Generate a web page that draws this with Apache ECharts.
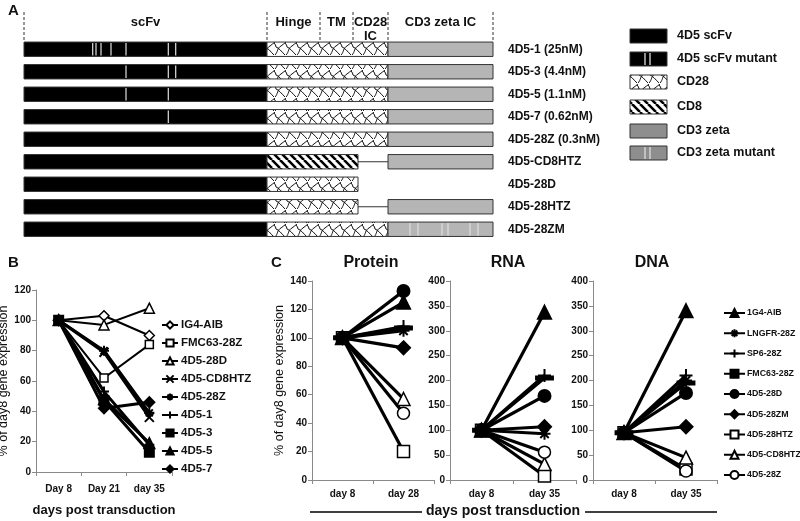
<!DOCTYPE html>
<html><head><meta charset="utf-8">
<script src="https://cdn.jsdelivr.net/npm/echarts@6/dist/echarts.min.js"></script>
<style>html,body{margin:0;padding:0;background:#fff}#c{width:800px;height:521px}</style>
</head><body><div id="c"></div><script>
// ---------- Panel A data ----------
const constructNames = ['4D5-1 (25nM)','4D5-3 (4.4nM)','4D5-5 (1.1nM)','4D5-7 (0.62nM)','4D5-28Z (0.3nM)','4D5-CD8HTZ','4D5-28D','4D5-28HTZ','4D5-28ZM'];
const domainBounds = [0, 243, 296, 329, 364, 469];
const domainNames = ['scFv', 'Hinge', 'TM', 'CD28\nIC', 'CD3 zeta IC'];
const segTypes = ['scfv', 'cd28', 'cd8', 'zeta', 'link'];
const constructSegments = [
  [['scfv',0,243],['cd28',243,364],['zeta',364,469]],
  [['scfv',0,243],['cd28',243,364],['zeta',364,469]],
  [['scfv',0,243],['cd28',243,364],['zeta',364,469]],
  [['scfv',0,243],['cd28',243,364],['zeta',364,469]],
  [['scfv',0,243],['cd28',243,364],['zeta',364,469]],
  [['scfv',0,243],['cd8',243,334],['link',334,364],['zeta',364,469]],
  [['scfv',0,243],['cd28',243,334]],
  [['scfv',0,243],['cd28',243,334],['link',334,364],['zeta',364,469]],
  [['scfv',0,243],['cd28',243,364],['zeta',364,469]]
];
const scfvMutations = [[68.7,72,77,87,102,144.3,151.7],[102,144.3,151.7],[102,144.3],[144.3],[],[],[],[],[]];
const zetaMutations = [[],[],[],[],[],[],[],[],[386,394,418,424,446,454]];
const legendANames = ['4D5 scFv','4D5 scFv mutant','CD28','CD8','CD3 zeta','CD3 zeta mutant'];

// ---------- Panel B data ----------
const bDays = ['Day 8','Day 21','day 35'];
const bNames = ['IG4-AIB','FMC63-28Z','4D5-28D','4D5-CD8HTZ','4D5-28Z','4D5-1','4D5-3','4D5-5','4D5-7'];
const bIG4AIB = [100, 103, 90];
const bFMC63 = [100, 62, 84];
const b28D = [100, 97, 108];
const bCD8HTZ = [100, 79, 36];
const b28Z = [100, 80, 39];
const b4D5_1 = [100, 53, 18];
const b4D5_3 = [100, 47, 13];
const b4D5_5 = [100, 48, 19];
const b4D5_7 = [100, 42, 46];
const bValues = [bIG4AIB, bFMC63, b28D, bCD8HTZ, b28Z, b4D5_1, b4D5_3, b4D5_5, b4D5_7];

// ---------- Panel C data ----------
const proteinDays = ['day 8','day 28'];
const rnaDays = ['day 8','day 35'];
const dnaDays = ['day 8','day 35'];
const cNames = ['1G4-AIB','LNGFR-28Z','SP6-28Z','FMC63-28Z','4D5-28D','4D5-28ZM','4D5-28HTZ','4D5-CD8HTZ','4D5-28Z'];
const proteinDay8 = [100,100,100,100,100,100,100,100,100];
const proteinDay28 = [125,105,108,107,133,93,20,57,47];
const rnaDay8 = [100,100,100,100,100,100,100,100,100];
const rnaDay35 = [337,93,210,205,169,107,8,32,56];
const dnaDay8 = [95,95,95,95,95,95,95,95,95];
const dnaDay35 = [340,200,210,195,175,107,22,45,18];

// ---------- styles ----------
const FONT = 'Liberation Sans, Arial, Helvetica, sans-serif';
const P_PLUS = 'path://M0,5L10,5M5,0L5,10';
const P_X = 'path://M0,0L10,10M10,0L0,10';
const P_AST = 'path://M0,5L10,5M5,0L5,10M1.5,1.5L8.5,8.5M8.5,1.5L1.5,8.5';

function mk(symbol, open, size){ return {symbol, open, size}; }
const bMarkers = [mk('diamond',true,10), mk('rect',true,8), mk('triangle',true,10), mk(P_X,false,9), mk(P_AST,false,10),
                  mk(P_PLUS,false,10), mk('rect',false,9), mk('triangle',false,10), mk('diamond',false,10)];
const cMarkers = [mk('triangle',false,13), mk(P_AST,false,12), mk(P_PLUS,false,13), mk('rect',false,[15,4]), mk('circle',false,12),
                  mk('diamond',false,13), mk('rect',true,12), mk('triangle',true,13), mk('circle',true,12)];

// patterns
function cd28Pattern(){
  const c = document.createElement('canvas'); c.width = 11; c.height = 14;
  const g = c.getContext('2d');
  g.fillStyle = '#fff'; g.fillRect(0,0,11,14);
  g.strokeStyle = '#111'; g.lineWidth = 1;
  g.beginPath(); g.moveTo(0,13); g.bezierCurveTo(3,10,2,6,6,4); g.stroke();
  g.beginPath(); g.moveTo(6,4); g.bezierCurveTo(8,3,9,1,11,0); g.stroke();
  g.beginPath(); g.moveTo(1,5); g.bezierCurveTo(4,6,6,9,10,13); g.stroke();
  g.beginPath(); g.moveTo(-1,1); g.quadraticCurveTo(1,3,1,5); g.stroke();
  g.beginPath(); g.moveTo(10,1); g.quadraticCurveTo(12,3,12,5); g.stroke();
  return c;
}
function cd8Pattern(){
  const c = document.createElement('canvas'); c.width = 8; c.height = 8;
  const g = c.getContext('2d');
  g.fillStyle = '#fff'; g.fillRect(0,0,8,8);
  g.strokeStyle = '#000'; g.lineWidth = 2.6;
  g.beginPath();
  [-8,0,8].forEach(k => { g.moveTo(k,0); g.lineTo(k+8,8); });
  g.stroke();
  return c;
}
const PAT28 = {image: cd28Pattern(), repeat: 'repeat'};
const PAT8 = {image: cd8Pattern(), repeat: 'repeat'};
const ZETA = '#b5b5b5';

// data for custom series
const segData = [];
constructSegments.forEach((segs, r) => segs.forEach(s => segData.push([r, segTypes.indexOf(s[0]), s[1], s[2]])));
const mutData = [];
scfvMutations.forEach((arr, r) => arr.forEach(p => mutData.push([r, p])));
zetaMutations.forEach((arr, r) => arr.forEach(p => mutData.push([r, p])));
const headerTextData = domainNames.map((n, i) => [(domainBounds[i] + domainBounds[i+1]) / 2, 1, n]);

const axisGrey = {color: '#8a8a8a', width: 1};
function valueY(grid, max, interval, name){
  return {gridIndex: grid, type: 'value', min: 0, max, interval,
    name: name || '', nameLocation: 'middle', nameGap: 24,
    nameTextStyle: {fontFamily: FONT, fontSize: 12.5, color: '#111'},
    axisLine: {show: true, lineStyle: axisGrey}, axisTick: {show: true, length: 4, lineStyle: axisGrey},
    axisLabel: {fontFamily: FONT, fontWeight: 'bold', fontSize: 10, color: '#111', margin: 5},
    splitLine: {show: false}};
}
function catX(grid, data, margin){
  return {gridIndex: grid, type: 'category', data, boundaryGap: true,
    axisLine: {show: true, lineStyle: axisGrey}, axisTick: {show: true, length: 4, lineStyle: axisGrey},
    axisLabel: {fontFamily: FONT, fontWeight: 'bold', fontSize: 10, color: '#111', margin: margin, interval: 0},
    splitLine: {show: false}};
}
function lineSeries(name, data, mark, xi, lw){
  return {type: 'line', name, xAxisIndex: xi, yAxisIndex: xi, data,
    symbol: mark.symbol, symbolSize: mark.size, showSymbol: true, z: mark.open ? 2 : 3,
    lineStyle: {color: '#000', width: lw},
    itemStyle: {color: mark.open ? '#fff' : '#000', borderColor: '#000', borderWidth: mark.open ? 1.5 : 2},
    emphasis: {disabled: true}};
}

const series = [];
// header
series.push({type: 'custom', xAxisIndex: 0, yAxisIndex: 0, data: domainBounds.map(b => [b]), encode: {x: 0},
  renderItem(params, api){
    const p0 = api.coord([api.value(0), 0]), p1 = api.coord([api.value(0), 1]);
    return {type: 'line', shape: {x1: p0[0], y1: p0[1], x2: p1[0], y2: p1[1]}, style: {stroke: '#333', lineWidth: 1, lineDash: [3, 2]}};
  }});
series.push({type: 'custom', xAxisIndex: 0, yAxisIndex: 0, data: headerTextData, encode: {x: 0, y: 1},
  renderItem(params, api){
    const p = api.coord([api.value(0), 1]);
    return {type: 'text', x: p[0], y: p[1] + 3, style: {text: headerTextData[params.dataIndex][2], fill: '#111',
      font: 'bold 13px ' + FONT, align: 'center', verticalAlign: 'top', lineHeight: 14}};
  }});
// construct segments
series.push({type: 'custom', xAxisIndex: 1, yAxisIndex: 1, data: segData, encode: {x: [2, 3], y: 0},
  renderItem(params, api){
    const r = api.value(0), t = segTypes[api.value(1)];
    const a = api.coord([api.value(2), r]), b = api.coord([api.value(3), r]);
    const h = api.size([0, 1])[1] * 0.64;
    if (t === 'link') return {type: 'line', shape: {x1: a[0], y1: a[1], x2: b[0], y2: b[1]}, style: {stroke: '#333', lineWidth: 1}};
    const fill = t === 'scfv' ? '#000' : t === 'cd28' ? PAT28 : t === 'cd8' ? PAT8 : ZETA;
    return {type: 'rect', shape: {x: a[0], y: a[1] - h / 2, width: b[0] - a[0], height: h},
      style: {fill, stroke: '#333', lineWidth: 1}};
  }});
series.push({type: 'custom', xAxisIndex: 1, yAxisIndex: 1, data: mutData, encode: {x: 1, y: 0}, z: 5,
  renderItem(params, api){
    const c = api.coord([api.value(1), api.value(0)]);
    const h = api.size([0, 1])[1] * 0.64;
    return {type: 'line', shape: {x1: c[0], y1: c[1] - h / 2 + 1, x2: c[0], y2: c[1] + h / 2 - 1}, style: {stroke: '#e0e0e0', lineWidth: 1.2}};
  }});
// panel B
bNames.forEach((n, i) => series.push(lineSeries('B|' + n, bValues[i], bMarkers[i], 2, bMarkers[i].open ? 2 : 3)));
// panel C
cNames.forEach((n, i) => {
  series.push(lineSeries('C|' + n, [proteinDay8[i], proteinDay28[i]], cMarkers[i], 3, 3.2));
  series.push(lineSeries('C|' + n, [rnaDay8[i], rnaDay35[i]], cMarkers[i], 4, 3.2));
  series.push(lineSeries('C|' + n, [dnaDay8[i], dnaDay35[i]], cMarkers[i], 5, 3.2));
});

// legend A graphic
const legendARows = [36, 59, 82, 107, 131, 153];
const graphics = [];
legendANames.forEach((n, i) => {
  const y = legendARows[i] - 7;
  const fill = i < 2 ? '#000' : i === 2 ? PAT28 : i === 3 ? PAT8 : '#8e8e8e';
  graphics.push({type: 'rect', shape: {x: 630, y, width: 37, height: 14}, style: {fill, stroke: '#333', lineWidth: 1}});
  if (i === 1 || i === 5) {
    [645, 650].forEach(x => graphics.push({type: 'line', shape: {x1: x, y1: y + 1, x2: x, y2: y + 13}, style: {stroke: '#ddd', lineWidth: 1.3}}));
  }
  graphics.push({type: 'text', x: 677, y: legendARows[i], style: {text: n, font: 'bold 12.5px ' + FONT, fill: '#111', verticalAlign: 'middle'}});
});
[['A', 8, 11], ['B', 8, 263], ['C', 271, 263]].forEach(t => graphics.push({type: 'text', x: t[1], y: t[2],
  style: {text: t[0], font: 'bold 15px ' + FONT, fill: '#111', verticalAlign: 'middle'}}));
[['Protein', 371], ['RNA', 508], ['DNA', 652]].forEach(t => graphics.push({type: 'text', x: t[1], y: 263,
  style: {text: t[0], font: 'bold 16px ' + FONT, fill: '#111', align: 'center', verticalAlign: 'middle'}}));
graphics.push({type: 'line', shape: {x1: 310, y1: 512, x2: 422, y2: 512}, style: {stroke: '#000', lineWidth: 1.5}});
graphics.push({type: 'line', shape: {x1: 585, y1: 512, x2: 717, y2: 512}, style: {stroke: '#000', lineWidth: 1.5}});
graphics.push({type: 'text', x: 503, y: 511, style: {text: 'days post transduction', font: 'bold 14px ' + FONT, fill: '#111', align: 'center', verticalAlign: 'middle'}});

const option = {
  animation: false,
  backgroundColor: '#fff',
  graphic: graphics,
  grid: [
    {left: 24, width: 469, top: 12, height: 28, outerBoundsMode: 'none'},
    {left: 24, width: 469, top: 38, height: 202.5, outerBoundsMode: 'none'},
    {left: 36, width: 136, top: 290, height: 182, outerBoundsMode: 'none'},
    {left: 312, width: 122, top: 281, height: 199, outerBoundsMode: 'none'},
    {left: 450, width: 126, top: 281, height: 199, outerBoundsMode: 'none'},
    {left: 593, width: 124, top: 281, height: 199, outerBoundsMode: 'none'}
  ],
  xAxis: [
    {gridIndex: 0, type: 'value', min: 0, max: 469, show: false},
    {gridIndex: 1, type: 'value', min: 0, max: 469, show: false},
    Object.assign(catX(2, bDays, 12), {name: 'days post transduction', nameLocation: 'middle', nameGap: 32,
      nameTextStyle: {fontFamily: FONT, fontWeight: 'bold', fontSize: 13, color: '#111'}}),
    catX(3, proteinDays, 9),
    catX(4, rnaDays, 9),
    catX(5, dnaDays, 9)
  ],
  yAxis: [
    {gridIndex: 0, type: 'value', min: 0, max: 1, show: false},
    {gridIndex: 1, type: 'category', data: constructNames, inverse: true, position: 'right',
      axisLine: {show: false}, axisTick: {show: false}, splitLine: {show: false},
      axisLabel: {fontFamily: FONT, fontWeight: 'bold', fontSize: 12, color: '#111', margin: 15, align: 'left'}},
    Object.assign(valueY(2, 120, 20, '% of day8 gene expression'), {nameGap: 17}),
    Object.assign(valueY(3, 140, 20, '% of day8 gene expression'), {nameGap: 21}),
    valueY(4, 400, 50),
    valueY(5, 400, 50)
  ],
  legend: [
    {data: bNames.map(n => 'B|' + n), orient: 'vertical', left: 161, top: 319, padding: 0,
      itemWidth: 16, itemHeight: 9, itemGap: 6, selectedMode: false,
      formatter: n => n.slice(2), textStyle: {fontFamily: FONT, fontWeight: 'bold', fontSize: 11.5, color: '#111', padding: [0, 0, 0, -2]}},
    {data: cNames.map(n => 'C|' + n), orient: 'vertical', left: 723, top: 308, padding: 0,
      itemWidth: 21, itemHeight: 10, itemGap: 10.25, selectedMode: false,
      formatter: n => n.slice(2), textStyle: {fontFamily: FONT, fontWeight: 'bold', fontSize: 8.8, color: '#111', padding: [0, 0, 0, -3]}}
  ],
  series
};
const chart = echarts.init(document.getElementById('c'), null, {renderer: 'canvas'});
chart.setOption(option);
</script></body></html>
